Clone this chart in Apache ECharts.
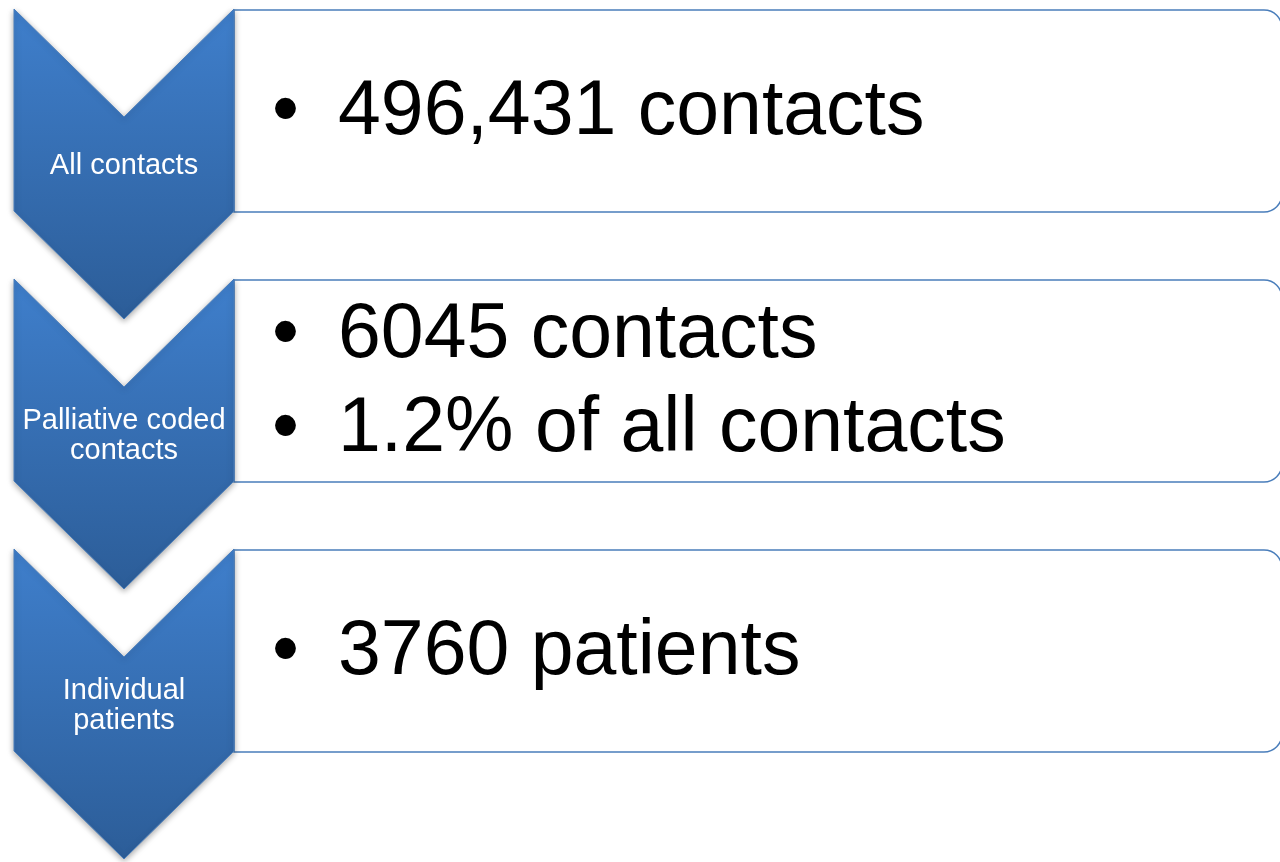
<!DOCTYPE html>
<html>
<head>
<meta charset="utf-8">
<style>
html, body { margin: 0; padding: 0; background: #fff; }
#main { width: 1280px; height: 862px; }
</style>
<script src="https://cdn.jsdelivr.net/npm/echarts@6/dist/echarts.min.js"></script>
</head>
<body>
<div id="main"></div>
<script>
// chevron labels, top to bottom
var steps = ['All contacts', 'Palliative coded\ncontacts', 'Individual\npatients']
// bullet lines shown in the box next to each chevron
var bullets = [
  ['496,431 contacts'],
  ['6045 contacts', '1.2% of all contacts'],
  ['3760 patients']
]

var FONT = '"Liberation Sans", Arial, Helvetica, sans-serif'

function renderStep (params, api) {
  var i = api.value(1)
  var bandH = api.size([0, 1])[1]
  var top = api.coord([0, i])[1] - bandH / 2
  var k = bandH / 270
  var x0 = api.coord([14, i])[0]
  var x1 = api.coord([234, i])[0]
  var xm = (x0 + x1) / 2
  var xr = api.coord([1282, i])[0]
  var lines = bullets[i]
  var children = []

  // white box with rounded right corners
  children.push({
    type: 'rect',
    shape: { x: x1, y: top + 1 * k, width: xr - x1, height: 202 * k, r: [0, 18, 18, 0] },
    style: { fill: '#fff', stroke: '#4a7ebb', lineWidth: 1.5 }
  })

  lines.forEach(function (t, j) {
    var y = top + 104 * k + (j - (lines.length - 1) / 2) * 94 * k
    children.push({
      type: 'text',
      style: { x: 272, y: y, text: '\u2022', fill: '#000', fontSize: 77, fontFamily: FONT, align: 'left', verticalAlign: 'middle' }
    })
    children.push({
      type: 'text',
      style: { x: 338, y: y, text: t, fill: '#000', fontSize: 77, fontFamily: FONT, align: 'left', verticalAlign: 'middle' }
    })
  })

  // chevron
  children.push({
    type: 'polygon',
    shape: {
      points: [
        [x0, top], [xm, top + 108 * k], [x1, top],
        [x1, top + 202 * k], [xm, top + 310 * k], [x0, top + 202 * k]
      ]
    },
    style: {
      fill: new echarts.graphic.LinearGradient(0, 0, 0, 1, [
        { offset: 0, color: '#3f7fcc' },
        { offset: 1, color: '#2c5d98' }
      ]),
      stroke: '#4a7ebb',
      lineWidth: 1,
      shadowBlur: 6,
      shadowOffsetY: 2,
      shadowColor: 'rgba(0,0,0,0.35)'
    }
  })
  children.push({
    type: 'text',
    style: {
      x: xm, y: top + 157 * k, text: steps[i], fill: '#fff',
      fontSize: 29, lineHeight: 30, fontFamily: FONT, align: 'center', verticalAlign: 'middle'
    }
  })

  return { type: 'group', children: children }
}

var chart = echarts.init(document.getElementById('main'))
chart.setOption({
  animation: false,
  grid: { left: 0, right: 0, top: 9, bottom: 43 },
  xAxis: { type: 'value', min: 0, max: 1280, show: false },
  yAxis: { type: 'category', data: steps, inverse: true, show: false },
  series: [{
    type: 'custom',
    clip: false,
    renderItem: renderStep,
    encode: { x: 0, y: 1 },
    data: steps.map(function (s, i) { return [0, i] })
  }]
})
</script>
</body>
</html>
